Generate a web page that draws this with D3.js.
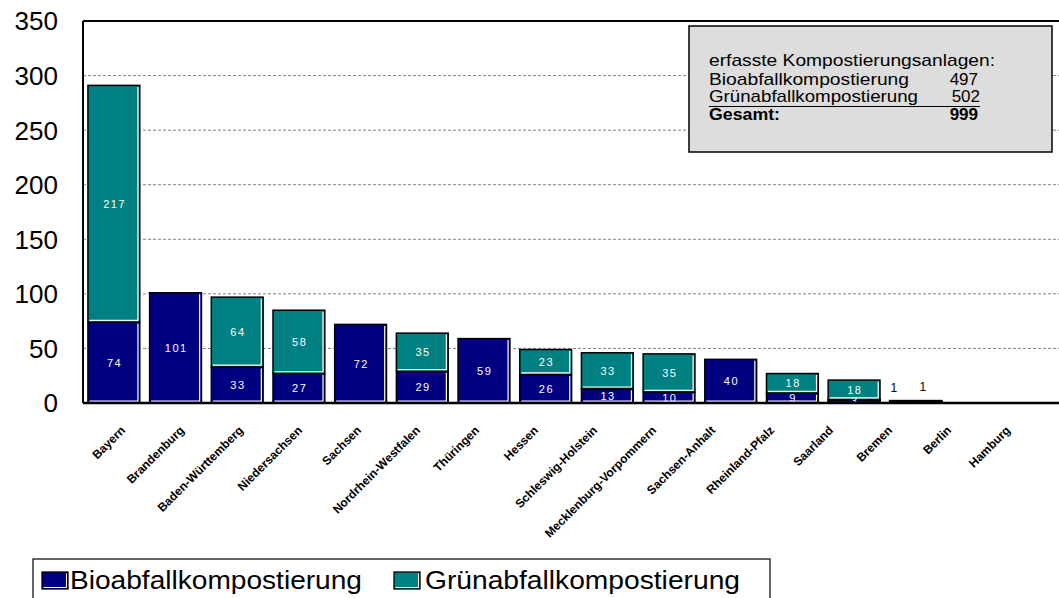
<!DOCTYPE html>
<html>
<head>
<meta charset="utf-8">
<script src="https://cdn.jsdelivr.net/npm/d3@7"></script>
<style>
  html, body { margin: 0; padding: 0; background: #fff; overflow: hidden; }
  svg { display: block; }
  text { font-family: "Liberation Sans", Arial, Helvetica, sans-serif; }
</style>
</head>
<body>
<svg id="chart" width="1059" height="598"></svg>
<script>
// ---------- data ----------
const categories = ["Bayern","Brandenburg","Baden-Württemberg","Niedersachsen","Sachsen",
  "Nordrhein-Westfalen","Thüringen","Hessen","Schleswig-Holstein","Mecklenburg-Vorpommern",
  "Sachsen-Anhalt","Rheinland-Pfalz","Saarland","Bremen","Berlin","Hamburg"];
const bio   = [74,101,33,27,72,29,59,26,13,10,40,9,3,1,0,0];
const gruen = [217,0,64,58,0,35,0,23,33,35,0,18,18,1,0,0];
const seriesNames = ["Bioabfallkompostierung","Grünabfallkompostierung"];
const seriesColors = ["#000080","#008080"];
const yTicks = [0,50,100,150,200,250,300,350];
const outsideLabelCats = ["Bremen"];
const summaryTitle = "erfasste Kompostierungsanlagen:";
const summaryLabels = ["Bioabfallkompostierung","Grünabfallkompostierung","Gesamt:"];

// ---------- layout ----------
const svg = d3.select("#chart");
const plot = {left: 83, top: 21, right: 1070, bottom: 403};

const x = d3.scaleBand().domain(categories).range([plot.left, plot.right])
  .paddingInner(0.16).paddingOuter(0.08);
const xLabel = d3.scalePoint().domain(categories).range([126, 1011]);
const y = d3.scaleLinear().domain([0, 350]).range([plot.bottom, plot.top]);

// grid lines
svg.append("g").selectAll("line").data(yTicks.filter(t => t > 0 && t < 350)).join("line")
  .attr("x1", plot.left).attr("x2", plot.right)
  .attr("y1", d => y(d)).attr("y2", d => y(d))
  .attr("stroke", "#808080").attr("stroke-width", 1).attr("stroke-dasharray", "3,2");

// plot border top + left
svg.append("line").attr("x1", plot.left).attr("x2", plot.right)
  .attr("y1", y(350)).attr("y2", y(350)).attr("stroke", "#000").attr("stroke-width", 2);
svg.append("line").attr("x1", plot.left).attr("x2", plot.left)
  .attr("y1", y(350)).attr("y2", y(0)).attr("stroke", "#000").attr("stroke-width", 2);

// y tick labels
svg.append("g").selectAll("text").data(yTicks).join("text")
  .attr("x", 58).attr("y", d => y(d)).attr("dy", "0.36em")
  .attr("text-anchor", "end").attr("font-size", 26).attr("fill", "#000")
  .text(d => d);

// stacked data
const rows = categories.map((c, i) => ({cat: c, bio: bio[i], gruen: gruen[i]}));
const stack = d3.stack().keys(["bio","gruen"])(rows);

const barG = svg.append("g");
stack.forEach((layer, si) => {
  layer.forEach((seg, i) => {
    const v = seg[1] - seg[0];
    if (v <= 0) return;
    const c = categories[i];
    const x0 = x(c), w = x.bandwidth();
    const yTop = y(seg[1]), yBot = y(seg[0]);
    const h = yBot - yTop;
    barG.append("rect").attr("x", x0).attr("y", yTop).attr("width", w).attr("height", h)
      .attr("fill", seriesColors[si]).attr("stroke", "#000").attr("stroke-width", h > 4 ? 1.5 : 2);
    if (h > 4) {
      barG.append("path")
        .attr("d", `M${x0 + w - 1.8},${yTop + 1.5} L${x0 + w - 1.8},${yBot - 1.8} L${x0 + 1.5},${yBot - 1.8}`)
        .attr("fill", "none").attr("stroke", "#fff").attr("stroke-width", 1.2);
    }
  });
});

// value labels
const lblG = svg.append("g");
stack.forEach((layer, si) => {
  layer.forEach((seg, i) => {
    const v = seg[1] - seg[0];
    if (v <= 0) return;
    const c = categories[i];
    const cx = x(c) + x.bandwidth() / 2;
    if (outsideLabelCats.includes(c)) {
      lblG.append("text").attr("x", cx + (si === 0 ? -22 : 7)).attr("y", y(seg[1]) - 10)
        .attr("text-anchor", "middle").attr("font-size", 12).attr("fill", "#000").text(v);
    } else {
      lblG.append("text").attr("x", cx + 0.75).attr("y", y((seg[0] + seg[1]) / 2)).attr("dy", "0.36em")
        .attr("text-anchor", "middle").attr("font-size", 11).attr("letter-spacing", "1.5px")
        .attr("fill", "#fff").text(v);
    }
  });
});

// x axis line
svg.append("line").attr("x1", plot.left).attr("x2", plot.right)
  .attr("y1", y(0)).attr("y2", y(0)).attr("stroke", "#000").attr("stroke-width", 2.5);

// category labels
svg.append("g").selectAll("text").data(categories).join("text")
  .attr("transform", d => `translate(${xLabel(d)},431) rotate(-45)`)
  .attr("text-anchor", "end").attr("font-size", 12).attr("font-weight", "bold")
  .attr("fill", "#000").text(d => d);

// summary box
const box = svg.append("g");
box.append("rect").attr("x", 689).attr("y", 26).attr("width", 363).attr("height", 126)
  .attr("fill", "#dddddd").attr("stroke", "#000").attr("stroke-width", 1.5);
const totals = [d3.sum(bio), d3.sum(gruen), d3.sum(bio) + d3.sum(gruen)];
box.append("text").attr("x", 709).attr("y", 66).attr("font-size", 17)
  .attr("textLength", 286).attr("lengthAdjust", "spacingAndGlyphs").text(summaryTitle);
const labelLens = [200, 209, 71];
const baselines = [85, 102, 120];
summaryLabels.forEach((t, i) => {
  box.append("text").attr("x", 709).attr("y", baselines[i]).attr("font-size", 17)
    .attr("font-weight", i === 2 ? "bold" : "normal")
    .attr("textLength", labelLens[i]).attr("lengthAdjust", "spacingAndGlyphs").text(t);
  box.append("text").attr("x", 978 + (i === 1 ? 2 : 0)).attr("y", baselines[i]).attr("font-size", 17)
    .attr("font-weight", i === 2 ? "bold" : "normal")
    .attr("text-anchor", "end").text(totals[i]);
});
box.append("line").attr("x1", 709).attr("x2", 980).attr("y1", 106.5).attr("y2", 106.5)
  .attr("stroke", "#000").attr("stroke-width", 1);

// legend
const leg = svg.append("g");
leg.append("rect").attr("x", 33).attr("y", 559).attr("width", 737).attr("height", 60)
  .attr("fill", "#fff").attr("stroke", "#000").attr("stroke-width", 1.2);
const legItems = [
  {sx: 42, tx: 70, tl: 292},
  {sx: 394, tx: 425, tl: 315}
];
seriesNames.forEach((n, i) => {
  const it = legItems[i];
  leg.append("rect").attr("x", it.sx).attr("y", 572).attr("width", 26).attr("height", 17)
    .attr("fill", seriesColors[i]).attr("stroke", "#000").attr("stroke-width", 1.3);
  leg.append("path").attr("d", `M${it.sx + 24.5},${573.5} L${it.sx + 24.5},${587.5} L${it.sx + 1.5},${587.5}`)
    .attr("fill", "none").attr("stroke", "#fff").attr("stroke-width", 1);
  leg.append("text").attr("x", it.tx).attr("y", 589).attr("font-size", 25)
    .attr("textLength", it.tl).attr("lengthAdjust", "spacingAndGlyphs").text(n);
});
</script>
</body>
</html>
